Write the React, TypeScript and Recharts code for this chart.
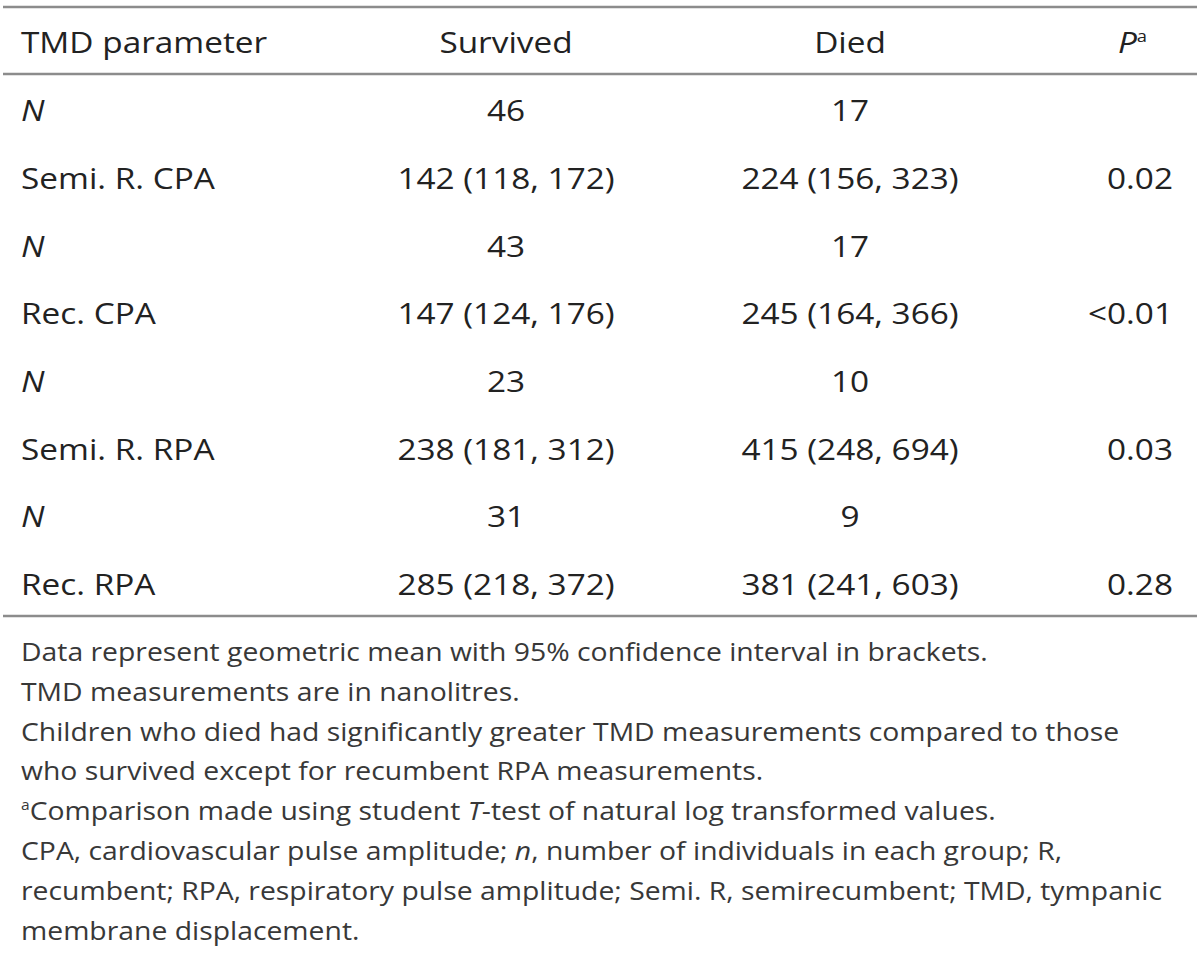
import React from 'react';
import { ScatterChart, Scatter, XAxis, YAxis, ReferenceLine } from 'recharts';

// ---- table content ----
const headers = ['TMD parameter', 'Survived', 'Died', '_P_^a'];
const parameters = ['_N_', 'Semi. R. CPA', '_N_', 'Rec. CPA', '_N_', 'Semi. R. RPA', '_N_', 'Rec. RPA'];
const survived = ['46', '142 (118, 172)', '43', '147 (124, 176)', '23', '238 (181, 312)', '31', '285 (218, 372)'];
const died = ['17', '224 (156, 323)', '17', '245 (164, 366)', '10', '415 (248, 694)', '9', '381 (241, 603)'];
const pValues = ['', '0.02', '', '<0.01', '', '0.03', '', '0.28'];
const footnotes = [
  'Data represent geometric mean with 95% confidence interval in brackets.',
  'TMD measurements are in nanolitres.',
  'Children who died had significantly greater TMD measurements compared to those',
  'who survived except for recumbent RPA measurements.',
  '^aComparison made using student _T_-test of natural log transformed values.',
  'CPA, cardiovascular pulse amplitude; _n_, number of individuals in each group; R,',
  'recumbent; RPA, respiratory pulse amplitude; Semi. R, semirecumbent; TMD, tympanic',
  'membrane displacement.',
];

// ---- layout / style ----
const W = 1200;
const H = 960;
const COLUMN_ANCHOR = [21, 506, 850, 1173];
const HEADER_ANCHOR = [21, 506, 850, 1147];
const COLUMN_ALIGN = ['start', 'middle', 'middle', 'end'];
const ROW_DOMAIN: [number, number] = [-0.789, 13.391];
const NOTE_DOMAIN: [number, number] = [-16.608, 7.513];
const RULES = [-0.685, 0.304, 8.31];
const TABLE_FONT = 29;
const NOTE_FONT = 26;
const TABLE_STRETCH = 1.15;
const NOTE_STRETCH = 1.09;
const FONT = '"Open Sans", "Noto Sans", sans-serif';

const columns = [parameters, survived, died, pValues];

const cellData: any[] = [];
columns.forEach((col, c) => {
  cellData.push({ x: HEADER_ANCHOR[c], row: 0, text: headers[c], anchor: COLUMN_ALIGN[c] });
  col.forEach((t, r) => {
    if (t) cellData.push({ x: COLUMN_ANCHOR[c], row: r + 1, text: t, anchor: COLUMN_ALIGN[c] });
  });
});

const noteData = footnotes.map((t, k) => ({ x: COLUMN_ANCHOR[0], line: k, text: t, anchor: 'start' }));

function renderMarkup(text: string, fontSize: number) {
  const parts = text.split(/(_[^_]+_|\^[a-z])/).filter((p) => p !== '');
  const out: React.ReactNode[] = [];
  let raised = false;
  parts.forEach((p, i) => {
    if (p.startsWith('^')) {
      out.push(
        <tspan key={i} dy={-fontSize * 0.38} fontSize={fontSize * 0.55}>
          {p.slice(1)}
        </tspan>
      );
      raised = true;
    } else {
      const italic = p.startsWith('_') && p.endsWith('_') && p.length > 2;
      const s = italic ? p.slice(1, -1) : p;
      out.push(
        <tspan key={i} dy={raised ? fontSize * 0.38 : undefined} fontStyle={italic ? 'italic' : 'normal'}>
          {s}
        </tspan>
      );
      raised = false;
    }
  });
  return out;
}

const makeShape = (fontSize: number, fill: string, stretch: number) => (props: any) => {
  const { cx, cy, payload } = props;
  if (cx == null || cy == null) return null;
  return (
    <text
      x={0}
      y={0}
      transform={`translate(${cx},${cy}) scale(${stretch},1)`}
      textAnchor={payload.anchor}
      fontFamily={FONT}
      fontSize={fontSize}
      fill={fill}
      style={{ whiteSpace: 'pre' }}
    >
      {renderMarkup(payload.text, fontSize)}
    </text>
  );
};

export default function App() {
  return (
    <div style={{ position: 'absolute', left: 0, top: 0, width: W, height: H, background: '#ffffff' }}>
      <ScatterChart width={W} height={H} margin={{ top: 0, right: 0, bottom: 0, left: 0 }}>
        <XAxis xAxisId="x" type="number" dataKey="x" domain={[0, W]} hide allowDataOverflow height={0} />
        <YAxis yAxisId="rows" type="number" dataKey="row" domain={ROW_DOMAIN} reversed hide allowDataOverflow width={0} />
        <YAxis yAxisId="notes" type="number" dataKey="line" domain={NOTE_DOMAIN} reversed hide allowDataOverflow width={0} />
        {RULES.map((y, i) => (
          <ReferenceLine
            key={i}
            xAxisId="x"
            yAxisId="rows"
            segment={[{ x: 3, y }, { x: 1197, y }]}
            stroke="#8c8c8c"
            strokeWidth={2.5}
            ifOverflow="visible"
          />
        ))}
        <Scatter
          xAxisId="x"
          yAxisId="rows"
          data={cellData}
          dataKey="row"
          isAnimationActive={false}
          shape={makeShape(TABLE_FONT, '#222222', TABLE_STRETCH)}
        />
        <Scatter
          xAxisId="x"
          yAxisId="notes"
          data={noteData}
          dataKey="line"
          isAnimationActive={false}
          shape={makeShape(NOTE_FONT, '#383838', NOTE_STRETCH)}
        />
      </ScatterChart>
    </div>
  );
}
